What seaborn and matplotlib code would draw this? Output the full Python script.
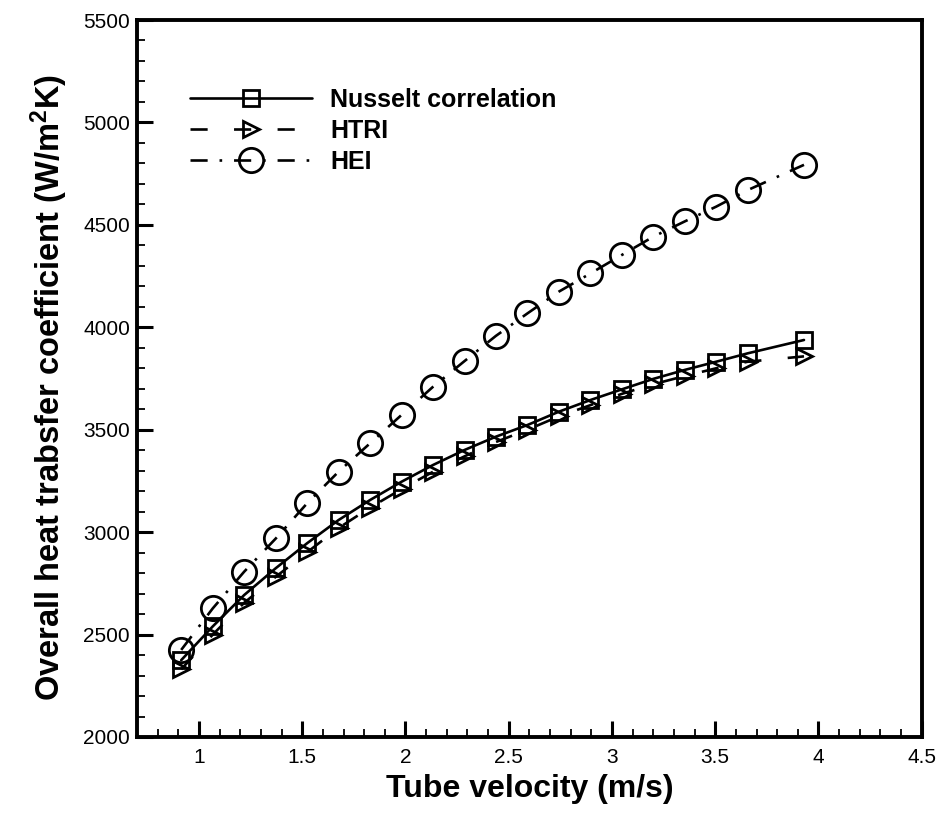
import matplotlib
matplotlib.use("Agg")
import matplotlib.pyplot as plt
import seaborn as sns
import pandas as pd

# ---- data ----
velocity = [0.914, 1.067, 1.219, 1.372, 1.524, 1.676, 1.829, 1.981, 2.134, 2.286,
            2.438, 2.591, 2.743, 2.896, 3.048, 3.200, 3.353, 3.505, 3.658, 3.93]
nusselt = [2375, 2540, 2693, 2824, 2946, 3059, 3157, 3246, 3328, 3401,
           3466, 3523, 3588, 3645, 3697, 3748, 3792, 3832, 3873, 3938]
htri = [2330, 2500, 2655, 2782, 2902, 3020, 3120, 3210, 3295, 3370,
        3440, 3500, 3565, 3620, 3675, 3722, 3762, 3800, 3832, 3858]
hei = [2425, 2628, 2807, 2969, 3141, 3295, 3434, 3572, 3710, 3835,
       3958, 4068, 4174, 4263, 4353, 4442, 4517, 4589, 4670, 4793]
series_names = ["Nusselt correlation", "HTRI", "HEI"]
x_ticks = [1, 1.5, 2, 2.5, 3, 3.5, 4, 4.5]
y_ticks = [2000, 2500, 3000, 3500, 4000, 4500, 5000, 5500]

sns.set_style("ticks")
plt.rcParams["font.family"] = ["Liberation Sans", "DejaVu Sans"]
plt.rcParams["mathtext.fontset"] = "custom"
plt.rcParams["mathtext.rm"] = "Liberation Sans:bold"
plt.rcParams["mathtext.it"] = "Liberation Sans:bold"
plt.rcParams["mathtext.bf"] = "Liberation Sans:bold"
plt.rcParams["text.color"] = "black"
plt.rcParams["axes.labelcolor"] = "black"
plt.rcParams["xtick.color"] = "black"
plt.rcParams["ytick.color"] = "black"

fig = plt.figure(figsize=(9.43, 8.14), dpi=100)
ax = fig.add_axes([137 / 943, 1 - 737 / 814, (921.7 - 137) / 943, (737 - 20) / 814])

lw = 1.9
styles = [
    dict(marker="s", markersize=11, linestyle="-"),
    dict(marker=">", markersize=12, linestyle=(0, (6.5, 10))),
    dict(marker="o", markersize=17.5, linestyle=(0, (6.5, 4.5, 1, 4.5))),
]
values = [nusselt, htri, hei]
for name, vals, st in zip(series_names, values, styles):
    df = pd.DataFrame({"v": velocity, "U": vals})
    sns.lineplot(data=df, x="v", y="U", ax=ax, color="black", linewidth=lw,
                 marker=st["marker"], markersize=st["markersize"],
                 linestyle=st["linestyle"], markerfacecolor="none",
                 markeredgecolor="black", markeredgewidth=2.0, label=name)

ax.set_xlim(0.7, 4.5)
ax.set_ylim(2000, 5500)
ax.set_xticks(x_ticks)
ax.set_xticklabels([f"{t:g}" for t in x_ticks])
ax.set_yticks(y_ticks)
ax.set_yticklabels([str(t) for t in y_ticks])
ax.set_xticks([0.7 + 0.1 * i for i in range(39)], minor=True)
ax.set_yticks([2000 + 100 * i for i in range(36)], minor=True)

ax.tick_params(which="major", direction="in", length=11.5, width=2.2,
               labelsize=15, top=False, right=False, colors="black")
ax.tick_params(which="minor", direction="in", length=5.5, width=1.3,
               top=False, right=False, colors="black")
ax.tick_params(axis="x", which="major", pad=8)
ax.tick_params(axis="y", which="major", pad=5)
for s in ax.spines.values():
    s.set_linewidth(2.8)
    s.set_color("black")

ax.set_xlabel("Tube velocity (m/s)", fontsize=23, fontweight="bold", labelpad=5,
              color="black")
ax.set_ylabel("Overall heat trabsfer coefficient (W/m$^{2}$K)", fontsize=23.5,
              fontweight="bold", color="black")
ax.yaxis.set_label_coords(-0.085, 0.487)

leg = ax.legend(loc="upper left", bbox_to_anchor=(0.0675, 0.905), frameon=False,
                borderaxespad=0, borderpad=0, handlelength=4.9, handletextpad=0.7,
                labelspacing=0.27, numpoints=1,
                prop={"family": "Liberation Sans", "weight": "bold", "size": 18})
for t in leg.get_texts():
    t.set_color("black")

fig.savefig("out.png", dpi=100, facecolor="white")
